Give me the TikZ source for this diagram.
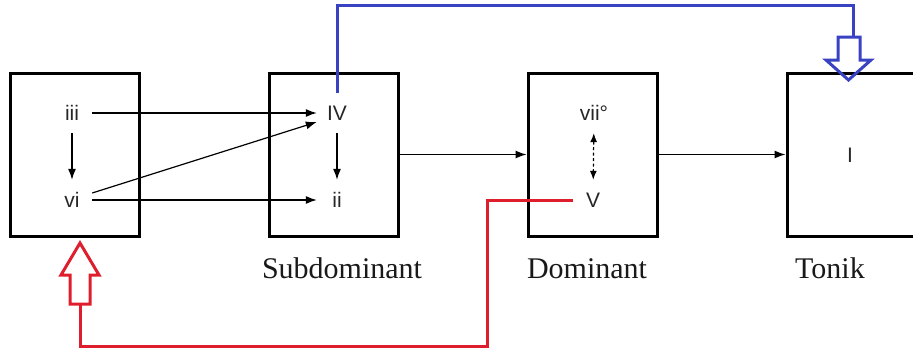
\documentclass[tikz,border=0pt]{standalone}
\usepackage{fontspec}
\setmainfont{Liberation Serif}
\newfontfamily\numfont{Liberation Sans}
\usetikzlibrary{arrows.meta}
\definecolor{myblue}{RGB}{58,66,196}
\definecolor{myred}{RGB}{222,30,45}
\tikzset{
  box/.style={draw=black, line width=3pt, minimum width=129pt, minimum height=163pt, inner sep=0pt},
  num/.style={font=\numfont\fontsize{21}{21}\selectfont, text=black!85, minimum width=40pt, minimum height=40pt, inner sep=0pt},
  lab/.style={font=\fontsize{30}{30}\selectfont, text=black!90, anchor=base},
  conn/.style={line width=1.2pt, -{Latex[length=11pt,width=8pt]}},
  bluel/.style={draw=myblue, line width=3pt},
  redl/.style={draw=myred, line width=3pt},
}
\begin{document}
\begin{tikzpicture}[x=1pt,y=-1pt]
\useasboundingbox (0,0) rectangle (913,356);
% boxes
\node[box] (b1) at (74.5,154.5) {};
\node[box] (b2) at (334,154.5) {};
\node[box] (b3) at (592.5,154.5) {};
\node[box, minimum width=140pt] (b4) at (857,154.5) {};
% numerals
\node[num] (iii) at (72,113) {iii};
\node[num] (vi) at (72,200) {vi};
\node[num] (IV) at (337,113) {IV};
\node[num] (ii) at (337,200) {ii};
\node[num] (vii) at (594,113) {vii°};
\node[num] (V) at (593,200) {V};
\node[num] (I) at (850,155) {I};
% labels
\node[lab] (sub) at (342,278) {Subdominant};
\node[lab] (dom) at (587,278) {Dominant};
\node[lab] (ton) at (830,278) {Tonik};
% thin connectors
\draw[conn] (iii) -- (vi);
\draw[conn] (IV) -- (ii);
\draw[conn] (iii.east) -- (IV.west);
\draw[conn] (vi.east) -- (ii.west);
\draw[conn] ([yshift=7pt]vi.east) -- ([yshift=-9pt]IV.west);
\draw[conn] (b2.east) -- (b3.west);
\draw[conn] (b3.east) -- (b4.west);
\draw[line width=1.2pt, dashed, dash pattern=on 3pt off 2.5pt, {Latex[length=9pt,width=7pt]}-{Latex[length=9pt,width=7pt]}] (vii) -- (V);
% blue feedback
\coordinate (bt) at (853,5);
\coordinate (bend) at (853,37);
\draw[bluel] (IV.north) -- (IV.north |- bt) -- (bt) -- (bend);
\draw[bluel, line join=miter] (838,37) -- (860,37) -- (860,60) -- (871,60) -- (848.5,80) -- (826,60) -- (838,60) -- cycle;
% red feedback
\coordinate (r1) at (487,200);
\coordinate (r2) at (487,346);
\coordinate (r3) at (80,346);
\coordinate (r4) at (80,304);
\draw[redl] (V.west) -- (r1) -- (r2) -- (r3) -- (r4);
\draw[redl, line join=miter] (70,304) -- (90,304) -- (90,275) -- (99,275) -- (80,243) -- (61,275) -- (70,275) -- cycle;
\end{tikzpicture}
\end{document}
